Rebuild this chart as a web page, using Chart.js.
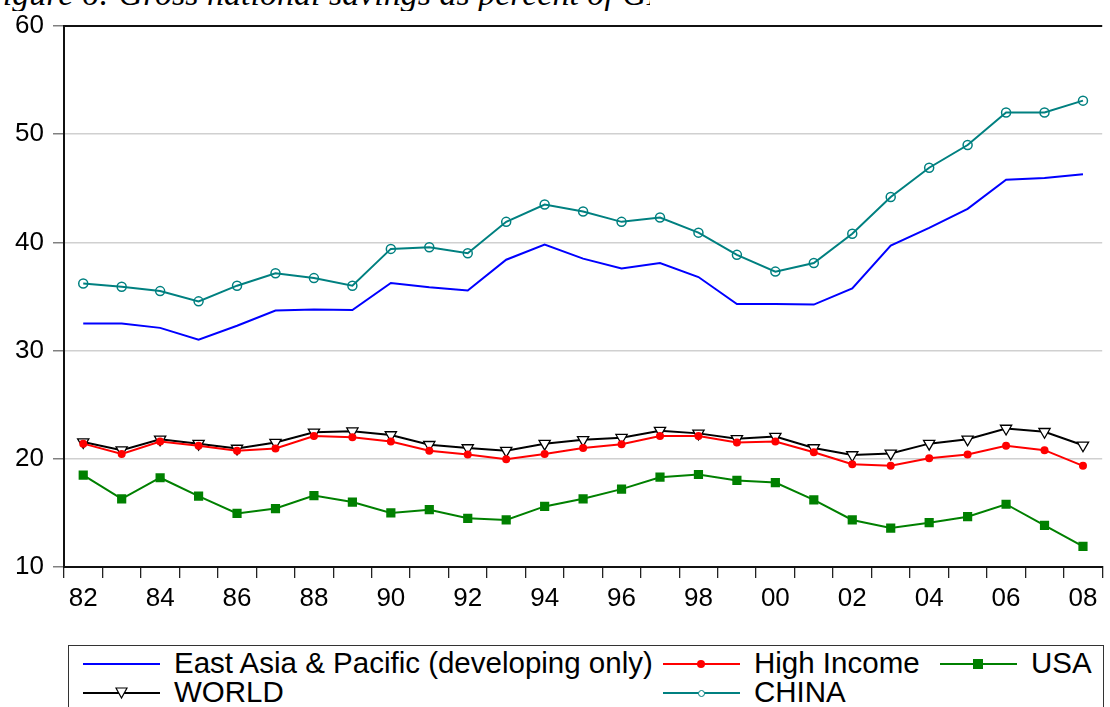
<!DOCTYPE html>
<html lang="en">
<head>
    <meta charset="UTF-8">
    <title>Gross national savings as percent of GDP</title>
    <style>
        body { margin: 0; background: #fff; font-family: 'Liberation Sans', Arial, sans-serif; }
        #page { position: relative; width: 1110px; height: 707px; overflow: hidden; }
        #title {
            position: absolute; left: -18px; top: -23px; width: 668px; overflow: hidden;
            white-space: nowrap; font-family: 'Liberation Serif', 'Times New Roman', serif;
            font-style: italic; font-size: 34px; line-height: 34px; color: #000;
        }
        #chartWrap { position: absolute; left: 0; top: 0; }
        #legend {
            position: absolute; left: 68px; top: 645px; width: 1036px; height: 80px;
            border: 1.5px solid #333; box-sizing: border-box;
        }
        .item { position: absolute; height: 30px; }
        .item .sample { position: absolute; left: 0; top: 14px; width: 77px; height: 2px; }
        .item .mark { position: absolute; }
        .item .txt { position: absolute; left: 91px; top: -1px; font-size: 29.5px; line-height: 30px; white-space: nowrap; }
    </style>
</head>
<body>
<div id="page">
    <div id="title">Figure 6: Gross national savings as percent of GDP</div>
    <div id="chartWrap"><canvas id="chart" width="1110" height="620"></canvas></div>
    <div id="legend"></div>
</div>

<script src="https://cdn.jsdelivr.net/npm/chart.js"></script>
<script>
    // years 1982-2008, shown as two digits
    const years = ['82','83','84','85','86','87','88','89','90','91','92','93','94','95','96','97','98','99','00','01','02','03','04','05','06','07','08'];
    const yTicks = [10, 20, 30, 40, 50, 60];

    const eastAsia = [32.5, 32.5, 32.1, 31.0, 32.3, 33.7, 33.8, 33.75, 36.25, 35.85, 35.55, 38.4, 39.8, 38.5, 37.6, 38.1, 36.8, 34.3, 34.3, 34.25, 35.75, 39.7, 41.35, 43.1, 45.8, 45.95, 46.3];
    const highIncome = [21.4, 20.45, 21.6, 21.2, 20.75, 20.95, 22.1, 22.0, 21.6, 20.75, 20.4, 19.95, 20.45, 21.0, 21.35, 22.1, 22.1, 21.5, 21.6, 20.6, 19.5, 19.35, 20.05, 20.4, 21.2, 20.8, 19.35];
    const usa = [18.5, 16.3, 18.25, 16.55, 14.95, 15.4, 16.6, 16.0, 15.0, 15.3, 14.5, 14.35, 15.6, 16.3, 17.2, 18.3, 18.55, 18.0, 17.8, 16.2, 14.35, 13.6, 14.1, 14.65, 15.8, 13.85, 11.9];
    const world = [21.55, 20.8, 21.8, 21.4, 20.95, 21.5, 22.45, 22.55, 22.2, 21.3, 21.0, 20.75, 21.4, 21.75, 21.95, 22.6, 22.35, 21.85, 22.05, 21.0, 20.35, 20.5, 21.4, 21.8, 22.8, 22.5, 21.25];
    const china = [36.2, 35.9, 35.5, 34.55, 36.0, 37.15, 36.7, 36.0, 39.4, 39.55, 39.0, 41.9, 43.5, 42.85, 41.9, 42.3, 40.9, 38.85, 37.3, 38.1, 40.8, 44.2, 46.9, 49.0, 52.0, 52.0, 53.1];

    const seriesNames = ['East Asia & Pacific (developing only)', 'High Income', 'USA', 'WORLD', 'CHINA'];

    const datasets = [
        { label: seriesNames[0], data: eastAsia, borderColor: '#0000ff', borderWidth: 2, pointRadius: 0 },
        { label: seriesNames[1], data: highIncome, borderColor: '#ff0000', backgroundColor: '#ff0000', borderWidth: 2,
          pointStyle: 'circle', pointRadius: 4, pointBorderWidth: 0 },
        { label: seriesNames[2], data: usa, borderColor: '#008000', backgroundColor: '#008000', borderWidth: 2,
          pointStyle: 'rect', pointRadius: 6.5, pointBorderWidth: 0 },
        { label: seriesNames[3], data: world, borderColor: '#000000', backgroundColor: '#ffffff', borderWidth: 2,
          pointStyle: 'triangle', rotation: 180, pointRadius: 6.5, pointBorderWidth: 1.3 },
        { label: seriesNames[4], data: china, borderColor: '#008080', backgroundColor: 'rgba(0,0,0,0)', borderWidth: 2,
          pointStyle: 'circle', pointRadius: 4.5, pointBorderWidth: 1.5 }
    ];

    // draws the top frame line of the plot
    const topLine = {
        id: 'topLine',
        afterDraw(chart) {
            const a = chart.chartArea, ctx = chart.ctx;
            ctx.save();
            ctx.strokeStyle = '#111';
            ctx.lineWidth = 2;
            ctx.beginPath();
            ctx.moveTo(a.left, a.top);
            ctx.lineTo(a.right, a.top);
            ctx.stroke();
            ctx.restore();
        }
    };

    new Chart(document.getElementById('chart'), {
        type: 'line',
        data: { labels: years, datasets: datasets },
        options: {
            responsive: false,
            animation: false,
            layout: { padding: { top: 26, right: 0, bottom: 0, left: 0 } },
            elements: { line: { tension: 0 } },
            plugins: { legend: { display: false }, tooltip: { enabled: false } },
            scales: {
                x: {
                    offset: true,
                    grid: { offset: true, drawOnChartArea: false, drawTicks: true, tickLength: 11, color: '#222', lineWidth: 1.3 },
                    border: { color: '#111', width: 2 },
                    ticks: {
                        autoSkip: false, maxRotation: 0, padding: 5, color: '#000',
                        font: { family: "'Liberation Sans', Arial, sans-serif", size: 26 },
                        callback: (v, i) => (i % 2 === 0 ? years[i] : '')
                    },
                    afterFit: (s) => { s.height = 53; }
                },
                y: {
                    min: 10, max: 60,
                    afterBuildTicks: (s) => { s.ticks = yTicks.map(v => ({ value: v })); },
                    grid: { color: '#d0d0d0', lineWidth: 1.5, tickColor: '#808080', tickLength: 11 },
                    border: { color: '#111', width: 2 },
                    ticks: { padding: 9, color: '#000', font: { family: "'Liberation Sans', Arial, sans-serif", size: 26 } },
                    afterFit: (s) => { s.width = 64; }
                }
            }
        },
        plugins: [topLine]
    });

    // legend laid out like the reference: three columns, two rows
    const legendPos = [
        { left: 14, top: 3 }, { left: 594, top: 3 }, { left: 871, top: 3 },
        { left: 14, top: 32 }, { left: 594, top: 32 }
    ];
    const legend = document.getElementById('legend');
    datasets.forEach((ds, i) => {
        const item = document.createElement('div');
        item.className = 'item';
        item.style.left = legendPos[i].left + 'px';
        item.style.top = legendPos[i].top + 'px';
        let mark = '';
        if (i === 1) mark = '<div class="mark" style="left:34px;top:11px;width:8px;height:8px;border-radius:50%;background:#ff0000"></div>';
        if (i === 2) mark = '<div class="mark" style="left:33px;top:10px;width:10px;height:10px;background:#008000"></div>';
        if (i === 3) mark = '<svg class="mark" style="left:32px;top:9px" width="13" height="13"><polygon points="1,1 12,1 6.5,11" fill="#fff" stroke="#000" stroke-width="1.2"/></svg>';
        if (i === 4) mark = '<div class="mark" style="left:35px;top:12px;width:5px;height:5px;border-radius:50%;border:1px solid #008080;background:#fff"></div>';
        item.innerHTML = '<div class="sample" style="background:' + ds.borderColor + '"></div>' + mark +
            '<div class="txt">' + ds.label.replace('&', '&amp;') + '</div>';
        legend.appendChild(item);
    });
</script>
</body>
</html>
